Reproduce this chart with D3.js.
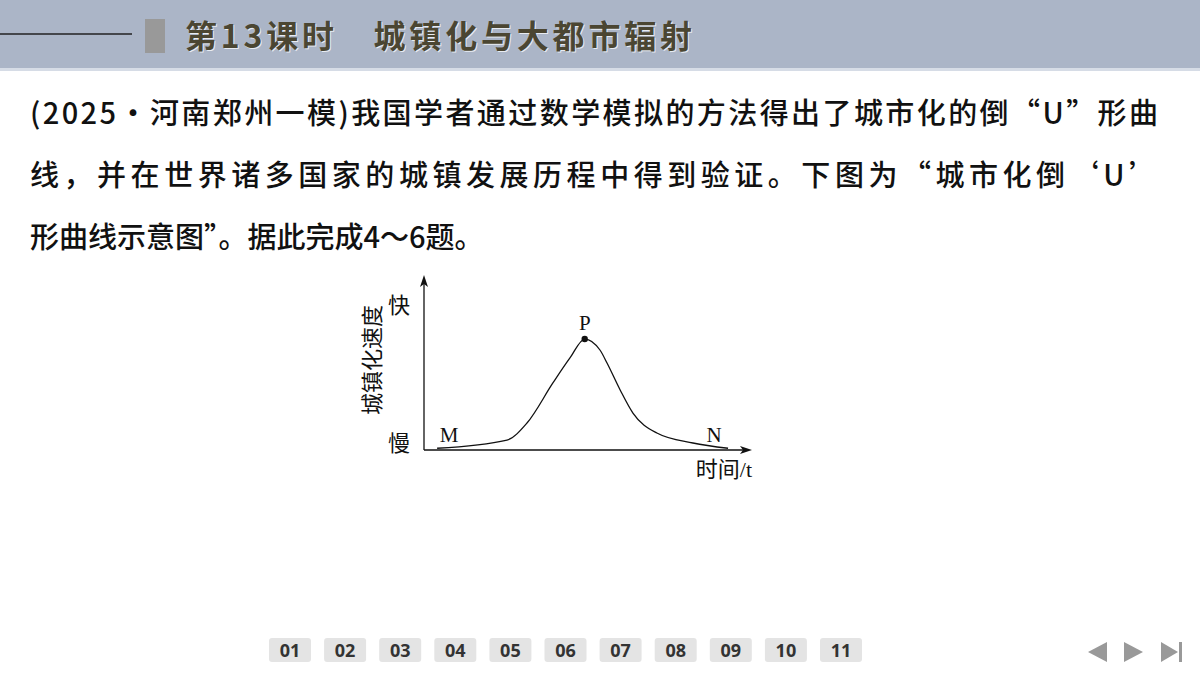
<!DOCTYPE html>
<html><head><meta charset="utf-8">
<script src="https://cdn.jsdelivr.net/npm/d3@7"></script>
<style>
body{margin:0;background:#fff;overflow:hidden}
svg{display:block}
</style></head>
<body>
<svg id="slide" width="1200" height="676"></svg>
<script>
// curve of urbanization speed over time (0-100 units)
const curveTime = [4, 25.3, 31.4, 39.3, 44.5, 49, 53.7, 55.8, 59.8, 63.7, 71, 82, 92.7];
const curveSpeed = [1, 5.7, 15.4, 38.3, 52.6, 63.4, 57, 49.7, 34.3, 21.1, 9.7, 4, 1];
const pointLabels = [
  { name: "M", t: 4, v: 1 },
  { name: "P", t: 49, v: 63.4 },
  { name: "N", t: 92.7, v: 1 }
];
const navLabels = ["01","02","03","04","05","06","07","08","09","10","11"];
const bodyLines = [
  "(2025·河南郑州一模)我国学者通过数学模拟的方法得出了城市化的倒“U”形曲",
  "线，并在世界诸多国家的城镇发展历程中得到验证。下图为“城市化倒‘U’",
  "形曲线示意图”。据此完成4～6题。"
];

const svg = d3.select("#slide");
const cjk = "'Noto Sans CJK SC', sans-serif";
const serif = "'Liberation Serif', 'Noto Sans CJK SC', serif";

// header
svg.append("rect").attr("width", 1200).attr("height", 68).attr("fill", "#abb5c7");
svg.append("rect").attr("y", 68).attr("width", 1200).attr("height", 3).attr("fill", "#d6dce6");
svg.append("line").attr("x1", 0).attr("x2", 132).attr("y1", 34).attr("y2", 34)
  .attr("stroke", "#222").attr("stroke-width", 1.5);
svg.append("rect").attr("x", 145).attr("y", 19).attr("width", 20).attr("height", 34).attr("fill", "#999");
svg.append("text").attr("x", 185).attr("y", 48).attr("font-family", cjk).attr("font-weight", 700)
  .attr("font-size", 32).attr("fill", "#4b4632").attr("textLength", 507)
  .style("text-shadow", "1px 1px 0 #e8ecf2")
  .text("第13课时　城镇化与大都市辐射");

// body text
svg.selectAll("text.body").data(bodyLines).join("text")
  .attr("class", "body")
  .attr("x", 30).attr("y", (d, i) => 124 + i * 62)
  .attr("font-family", cjk).attr("font-weight", 500).attr("font-size", 29)
  .attr("fill", "#111").attr("textLength", (d, i) => i < 2 ? 1128 : null)
  .text(d => d);

// chart
const x = d3.scaleLinear().domain([0, 100]).range([424, 752]);
const y = d3.scaleLinear().domain([0, 100]).range([450, 275]);
const g = svg.append("g");
const ink = "#111";

g.append("line").attr("x1", x(0)).attr("x2", x(100) - 4).attr("y1", y(0)).attr("y2", y(0))
  .attr("stroke", ink).attr("stroke-width", 1.3);
g.append("line").attr("x1", x(0)).attr("x2", x(0)).attr("y1", y(0)).attr("y2", y(100) + 4)
  .attr("stroke", ink).attr("stroke-width", 1.3);
g.append("path").attr("d", `M${x(100)},${y(0)} l-12,-4 l3,4 l-3,4 z`).attr("fill", ink);
g.append("path").attr("d", `M${x(0)},${y(100)} l-4,12 l4,-3 l4,3 z`).attr("fill", ink);

const line = d3.line().x((d, i) => x(curveTime[i])).y((d, i) => y(curveSpeed[i]))
  .curve(d3.curveMonotoneX);
g.append("path").datum(curveTime).attr("d", line).attr("fill", "none")
  .attr("stroke", ink).attr("stroke-width", 1.3);

const P = pointLabels[1];
g.append("circle").attr("cx", x(P.t)).attr("cy", y(P.v)).attr("r", 3.2).attr("fill", ink);
const offs = { M: [12, -6], P: [0, -9], N: [-14, -6] };
g.selectAll("text.pt").data(pointLabels).join("text")
  .attr("class", "pt")
  .attr("x", d => x(d.t) + offs[d.name][0]).attr("y", d => y(d.v) + offs[d.name][1])
  .attr("text-anchor", "middle").attr("font-family", serif).attr("font-size", 21).attr("fill", ink)
  .text(d => d.name);

g.append("text").attr("x", 388).attr("y", 313).attr("font-family", cjk).attr("font-size", 22).attr("fill", ink).text("快");
g.append("text").attr("x", 388).attr("y", 451).attr("font-family", cjk).attr("font-size", 22).attr("fill", ink).text("慢");
g.append("text").attr("transform", "translate(380,360) rotate(-90)").attr("text-anchor", "middle")
  .attr("font-family", cjk).attr("font-size", 22).attr("fill", ink).text("城镇化速度");
g.append("text").attr("x", 752).attr("y", 477).attr("text-anchor", "end")
  .attr("font-family", serif).attr("font-size", 22).attr("fill", ink).text("时间/t");

// navigation
const nav = svg.append("g").selectAll("g").data(navLabels).join("g")
  .attr("transform", (d, i) => `translate(${269 + i * 55.1},638)`);
nav.append("rect").attr("width", 42).attr("height", 24).attr("rx", 3).attr("fill", "#e4e4e4");
nav.append("text").attr("x", 21).attr("y", 19).attr("text-anchor", "middle")
  .attr("font-family", "'Open Sans', sans-serif").attr("font-weight", 700).attr("font-size", 18)
  .attr("fill", "#333").text(d => d);

const arrowG = svg.append("g").attr("fill", "#999");
arrowG.append("path").attr("d", "M1088,652 l19,-10 v20 z");
arrowG.append("path").attr("d", "M1143,652 l-19,-10 v20 z");
arrowG.append("path").attr("d", "M1178,652 l-17,-10 v20 z");
arrowG.append("rect").attr("x", 1179).attr("y", 642).attr("width", 3).attr("height", 20);
</script>
</body></html>
